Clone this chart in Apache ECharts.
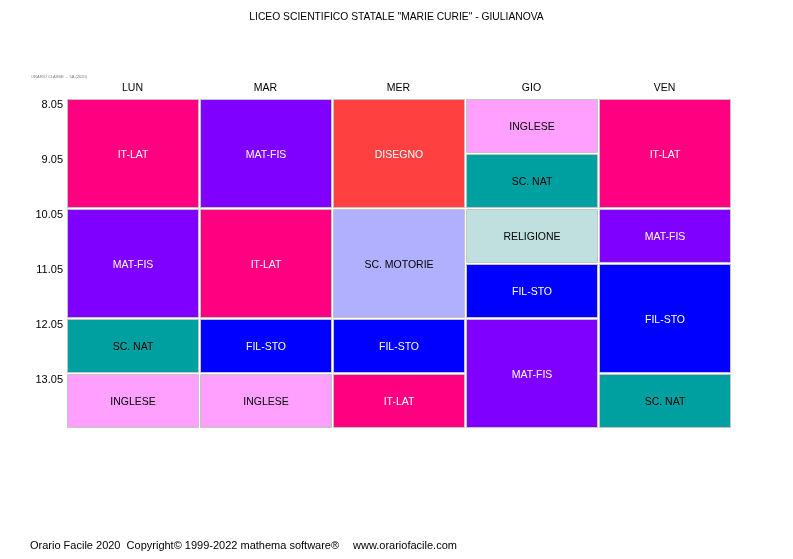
<!DOCTYPE html>
<html>
<head>
<meta charset="utf-8">
<script src="https://cdn.jsdelivr.net/npm/echarts@6/dist/echarts.min.js"></script>
<style>
  html, body { margin: 0; padding: 0; background: #fff; }
  #orario { width: 793px; height: 559px; }
</style>
</head>
<body>
<div id="orario"></div>
<script>
// orario settimanale classe
var days = ['LUN', 'MAR', 'MER', 'GIO', 'VEN'];
var hourLabels = ['8.05', '9.05', '10.05', '11.05', '12.05', '13.05'];

// per giorno: [materia, ore]
var lun = [['IT-LAT', 2], ['MAT-FIS', 2], ['SC. NAT', 1], ['INGLESE', 1]];
var mar = [['MAT-FIS', 2], ['IT-LAT', 2], ['FIL-STO', 1], ['INGLESE', 1]];
var mer = [['DISEGNO', 2], ['SC. MOTORIE', 2], ['FIL-STO', 1], ['IT-LAT', 1]];
var gio = [['INGLESE', 1], ['SC. NAT', 1], ['RELIGIONE', 1], ['FIL-STO', 1], ['MAT-FIS', 2]];
var ven = [['IT-LAT', 2], ['MAT-FIS', 1], ['FIL-STO', 2], ['SC. NAT', 1]];
var week = [lun, mar, mer, gio, ven];

// colori materie
var colori = {
    'IT-LAT': ['#ff0080', '#ffffff'],
    'MAT-FIS': ['#8000ff', '#ffffff'],
    'DISEGNO': ['#ff4040', '#ffffff'],
    'FIL-STO': ['#0000ff', '#ffffff'],
    'INGLESE': ['#ffa0ff', '#000000'],
    'SC. NAT': ['#00a0a0', '#000000'],
    'RELIGIONE': ['#c0e0e0', '#000000'],
    'SC. MOTORIE': ['#b0b0ff', '#000000']
};

var cells = [];
for (var d = 0; d < week.length; d++) {
    var start = 0;
    for (var i = 0; i < week[d].length; i++) {
        cells.push([d, start, start + week[d][i][1], week[d][i][0]]);
        start += week[d][i][1];
    }
}

var FONT = 'Liberation Sans';

function renderCell(params, api) {
    var d = api.value(0);
    var p0 = api.coord([d, api.value(1)]);
    var p1 = api.coord([d, api.value(2)]);
    var bw = api.size([1, 0])[0];
    var x0 = Math.round(p0[0] - bw / 2);
    var x1 = Math.round(p0[0] + bw / 2);
    var y0 = Math.round(p0[1]);
    var y1 = Math.round(p1[1]);
    var subj = cells[params.dataIndex][3];
    var c = colori[subj];
    return {
        type: 'group',
        children: [{
            type: 'rect',
            shape: { x: x0 + 1.5, y: y0 + 1.5, width: x1 - x0 - 2, height: y1 - y0 - 2 },
            style: { fill: c[0], stroke: '#c4c4c4', lineWidth: 1 }
        }, {
            type: 'text',
            style: {
                text: subj,
                x: (x0 + x1) / 2 + 0.5,
                y: (y0 + y1) / 2 + 2,
                align: 'center',
                verticalAlign: 'middle',
                fill: c[1],
                font: '10.5px "' + FONT + '"'
            }
        }]
    };
}

var chart = echarts.init(document.getElementById('orario'));
var option = {
    backgroundColor: '#ffffff',
    animation: false,
    textStyle: { fontFamily: FONT },
    title: {
        text: 'LICEO SCIENTIFICO STATALE "MARIE CURIE" - GIULIANOVA',
        left: 'center',
        top: 7,
        textStyle: { fontSize: 10.3, fontWeight: 'normal', color: '#000', fontFamily: FONT }
    },
    graphic: [{
        type: 'text',
        left: 31,
        top: 75,
        style: { text: 'ORARIO CLASSE  -  5A (2020)', font: '4px "' + FONT + '"', fill: '#777' }
    }, {
        type: 'text',
        left: 30,
        top: 540,
        style: { text: 'Orario Facile 2020  Copyright\u00a9 1999-2022 mathema software\u00ae', font: '11px "' + FONT + '"', fill: '#000' }
    }, {
        type: 'text',
        left: 353,
        top: 540,
        style: { text: 'www.orariofacile.com', font: '11px "' + FONT + '"', fill: '#000' }
    }],
    grid: { left: 66, right: 62, top: 98, bottom: 131 },
    xAxis: {
        type: 'category',
        data: days,
        position: 'top',
        axisLine: { show: false },
        axisTick: { show: false },
        splitLine: { show: false },
        axisLabel: { color: '#000', fontSize: 10.5, margin: 4, fontFamily: FONT }
    },
    yAxis: {
        type: 'value',
        inverse: true,
        min: 0,
        max: 6,
        interval: 1,
        axisLine: { show: false },
        axisTick: { show: false },
        splitLine: { show: false },
        axisLabel: {
            color: '#000',
            fontSize: 11,
            margin: 3,
            verticalAlign: 'top',
            padding: [1, 0, 0, 0],
            fontFamily: FONT,
            formatter: function (v) { return hourLabels[v] || ''; }
        }
    },
    series: [{
        type: 'custom',
        renderItem: renderCell,
        encode: { x: 0, y: [1, 2] },
        data: cells
    }]
};
chart.setOption(option);
</script>
</body>
</html>
